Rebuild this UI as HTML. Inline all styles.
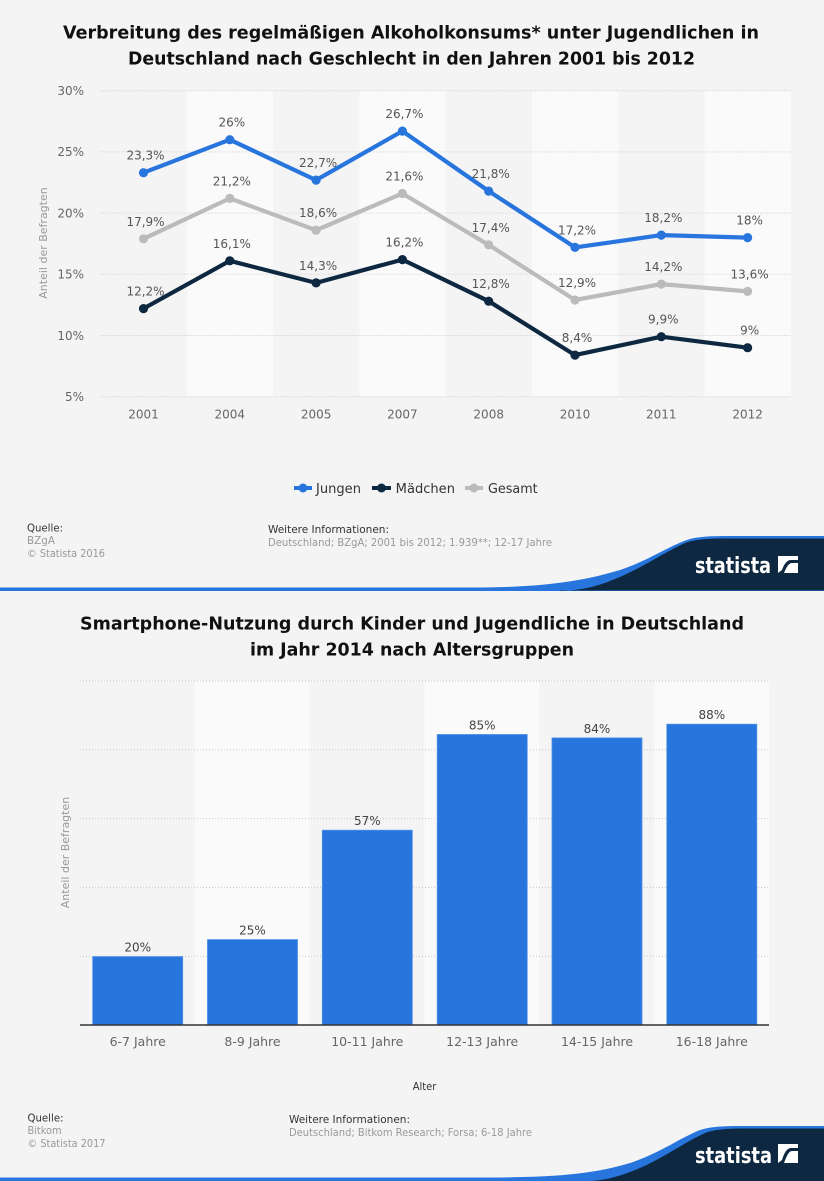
<!DOCTYPE html>
<html><head><meta charset="utf-8"><style>
html,body{margin:0;padding:0;background:#f4f4f4;}
svg{display:block;font-family:"DejaVu Sans","Liberation Sans",sans-serif;}
.ft{font-family:"DejaVu Sans Condensed","DejaVu Sans","Liberation Sans",sans-serif;font-size:11px;}
</style></head><body>
<svg width="824" height="1181" viewBox="0 0 824 1181" xmlns="http://www.w3.org/2000/svg">
<rect x="0" y="0" width="824" height="1181" fill="#f4f4f4"/>

<!-- ============ CHART 1 ============ -->
<text x="411" y="38.5" text-anchor="middle" font-size="17.5" font-weight="bold" fill="#111" textLength="696" lengthAdjust="spacingAndGlyphs">Verbreitung des regelmäßigen Alkoholkonsums* unter Jugendlichen in</text>
<text x="411.5" y="64.5" text-anchor="middle" font-size="17.5" font-weight="bold" fill="#111" textLength="567" lengthAdjust="spacingAndGlyphs">Deutschland nach Geschlecht in den Jahren 2001 bis 2012</text>

<!-- bands -->
<g fill="#fafafa">
<rect x="186.8" y="90.7" width="86.3" height="306"/>
<rect x="359.4" y="90.7" width="86.3" height="306"/>
<rect x="532" y="90.7" width="86.3" height="306"/>
<rect x="704.6" y="90.7" width="86.3" height="306"/>
</g>
<!-- gridlines -->
<g stroke="#c8c8c8" stroke-width="1" stroke-dasharray="1,2">
<line x1="100.5" y1="90.7" x2="791" y2="90.7"/>
<line x1="100.5" y1="151.9" x2="791" y2="151.9"/>
<line x1="100.5" y1="213.1" x2="791" y2="213.1"/>
<line x1="100.5" y1="274.3" x2="791" y2="274.3"/>
<line x1="100.5" y1="335.5" x2="791" y2="335.5"/>
<line x1="100.5" y1="396.7" x2="791" y2="396.7"/>
</g>
<g font-size="12" fill="#666" text-anchor="end">
<text x="84" y="95">30%</text>
<text x="84" y="156.2">25%</text>
<text x="84" y="217.4">20%</text>
<text x="84" y="278.6">15%</text>
<text x="84" y="339.8">10%</text>
<text x="84" y="401">5%</text>
</g>
<text transform="translate(47,243) rotate(-90)" text-anchor="middle" font-size="11" fill="#999">Anteil der Befragten</text>
<g font-size="12" fill="#666" text-anchor="middle">
<text x="143.5" y="418.5">2001</text>
<text x="229.8" y="418.5">2004</text>
<text x="316.1" y="418.5">2005</text>
<text x="402.4" y="418.5">2007</text>
<text x="488.7" y="418.5">2008</text>
<text x="575" y="418.5">2010</text>
<text x="661.3" y="418.5">2011</text>
<text x="747.6" y="418.5">2012</text>
</g>

<!-- series -->
<g fill="none" stroke-width="4.2" stroke-linejoin="round" stroke-linecap="round">
<polyline stroke="#bbbbbb" points="143.5,238.8 229.8,198.4 316.1,230.2 402.4,193.5 488.7,244.9 575,300 661.3,284.1 747.6,291.4"/>
<polyline stroke="#0e2841" points="143.5,308.6 229.8,260.8 316.1,282.9 402.4,259.6 488.7,301.2 575,355.1 661.3,336.7 747.6,347.7"/>
<polyline stroke="#2876dd" points="143.5,172.7 229.8,139.7 316.1,180.1 402.4,131.1 488.7,191.1 575,247.4 661.3,235.1 747.6,237.6"/>
</g>
<g fill="#bbbbbb">
<circle cx="143.5" cy="238.8" r="4.6"/><circle cx="229.8" cy="198.4" r="4.6"/><circle cx="316.1" cy="230.2" r="4.6"/><circle cx="402.4" cy="193.5" r="4.6"/><circle cx="488.7" cy="244.9" r="4.6"/><circle cx="575" cy="300" r="4.6"/><circle cx="661.3" cy="284.1" r="4.6"/><circle cx="747.6" cy="291.4" r="4.6"/>
</g>
<g fill="#0e2841">
<circle cx="143.5" cy="308.6" r="4.6"/><circle cx="229.8" cy="260.8" r="4.6"/><circle cx="316.1" cy="282.9" r="4.6"/><circle cx="402.4" cy="259.6" r="4.6"/><circle cx="488.7" cy="301.2" r="4.6"/><circle cx="575" cy="355.1" r="4.6"/><circle cx="661.3" cy="336.7" r="4.6"/><circle cx="747.6" cy="347.7" r="4.6"/>
</g>
<g fill="#2876dd">
<circle cx="143.5" cy="172.7" r="4.6"/><circle cx="229.8" cy="139.7" r="4.6"/><circle cx="316.1" cy="180.1" r="4.6"/><circle cx="402.4" cy="131.1" r="4.6"/><circle cx="488.7" cy="191.1" r="4.6"/><circle cx="575" cy="247.4" r="4.6"/><circle cx="661.3" cy="235.1" r="4.6"/><circle cx="747.6" cy="237.6" r="4.6"/>
</g>
<!-- labels -->
<g font-size="12" fill="#555" text-anchor="middle">
<text x="145.5" y="159.7">23,3%</text>
<text x="231.8" y="126.7">26%</text>
<text x="318.1" y="167.1">22,7%</text>
<text x="404.4" y="118.1">26,7%</text>
<text x="490.7" y="178.1">21,8%</text>
<text x="577" y="234.4">17,2%</text>
<text x="663.3" y="222.1">18,2%</text>
<text x="749.6" y="224.6">18%</text>

<text x="145.5" y="225.8">17,9%</text>
<text x="231.8" y="185.4">21,2%</text>
<text x="318.1" y="217.2">18,6%</text>
<text x="404.4" y="180.5">21,6%</text>
<text x="490.7" y="231.9">17,4%</text>
<text x="577" y="287">12,9%</text>
<text x="663.3" y="271.1">14,2%</text>
<text x="749.6" y="278.4">13,6%</text>

<text x="145.5" y="295.6">12,2%</text>
<text x="231.8" y="247.8">16,1%</text>
<text x="318.1" y="269.9">14,3%</text>
<text x="404.4" y="246.6">16,2%</text>
<text x="490.7" y="288.2">12,8%</text>
<text x="577" y="342.1">8,4%</text>
<text x="663.3" y="323.7">9,9%</text>
<text x="749.6" y="334.7">9%</text>
</g>

<!-- legend -->
<g stroke-width="4" stroke-linecap="butt">
<line x1="294" y1="488" x2="312" y2="488" stroke="#2876dd"/>
<line x1="372" y1="488" x2="391" y2="488" stroke="#0e2841"/>
<line x1="465" y1="488" x2="483" y2="488" stroke="#bbbbbb"/>
</g>
<circle cx="303" cy="488" r="4.5" fill="#2876dd"/>
<circle cx="381.5" cy="488" r="4.5" fill="#0e2841"/>
<circle cx="474" cy="488" r="4.5" fill="#bbbbbb"/>
<g font-size="13" fill="#333">
<text x="316" y="493" textLength="45" lengthAdjust="spacingAndGlyphs">Jungen</text>
<text x="395.7" y="493" textLength="59.3" lengthAdjust="spacingAndGlyphs">Mädchen</text>
<text x="488" y="493" textLength="49.7" lengthAdjust="spacingAndGlyphs">Gesamt</text>
</g>

<!-- footer 1 -->
<g class="ft">
<text x="27" y="531.5" fill="#333" textLength="36" lengthAdjust="spacingAndGlyphs">Quelle:</text>
<text x="27" y="544" fill="#999" textLength="28" lengthAdjust="spacingAndGlyphs">BZgA</text>
<text x="27" y="557" fill="#999" textLength="78" lengthAdjust="spacingAndGlyphs">© Statista 2016</text>
<text x="268" y="533" fill="#333" textLength="121" lengthAdjust="spacingAndGlyphs">Weitere Informationen:</text>
<text x="268" y="546" fill="#999" textLength="284" lengthAdjust="spacingAndGlyphs">Deutschland; BZgA; 2001 bis 2012; 1.939**; 12-17 Jahre</text>
</g>
<!-- logo 1 -->
<path d="M0,587.5 L470,587.5 C540,587.5 580,582 620,570 C650,560 670,545 690,539 C700,536.5 710,536 730,536 L824,536 L824,591 L0,591 Z" fill="#2876dd"/>
<path d="M560,591 C590,590 605,583 620,577 C645,566 665,552 685,543 C695,539.5 705,538.5 725,538.5 L824,538.5 L824,590.5 L560,590.5 Z" fill="#0e2841"/>
<text x="695" y="573" font-size="22" font-weight="bold" fill="#fff" textLength="76" lengthAdjust="spacingAndGlyphs">statista</text>
<rect x="778" y="556" width="20" height="17" fill="#fff"/>
<path d="M778,573 L784,573 C787,566 789,563 792,563 L798,563 L798,560 L791,560 C787,560 784,564 782,570 Z" fill="#0e2841"/>

<!-- ============ CHART 2 ============ -->
<text x="412" y="629.5" text-anchor="middle" font-size="17.5" font-weight="bold" fill="#111" textLength="664" lengthAdjust="spacingAndGlyphs">Smartphone-Nutzung durch Kinder und Jugendliche in Deutschland</text>
<text x="412" y="655.5" text-anchor="middle" font-size="17.5" font-weight="bold" fill="#111" textLength="324" lengthAdjust="spacingAndGlyphs">im Jahr 2014 nach Altersgruppen</text>

<g fill="#fafafa">
<rect x="194.8" y="681" width="114.8" height="344"/>
<rect x="424.5" y="681" width="114.8" height="344"/>
<rect x="654.2" y="681" width="114.8" height="344"/>
</g>
<g stroke="#c8c8c8" stroke-width="1" stroke-dasharray="1,2">
<line x1="80" y1="681" x2="769" y2="681"/>
<line x1="80" y1="749.8" x2="769" y2="749.8"/>
<line x1="80" y1="818.6" x2="769" y2="818.6"/>
<line x1="80" y1="887.4" x2="769" y2="887.4"/>
<line x1="80" y1="956.2" x2="769" y2="956.2"/>
</g>
<g fill="#2876dd" stroke="#4a8fe6" stroke-width="0.8">
<rect x="92.7" y="956.6" width="90" height="68.4"/>
<rect x="207.5" y="939.6" width="90" height="85.4"/>
<rect x="322.3" y="830.2" width="90" height="194.8"/>
<rect x="437.2" y="734.5" width="90" height="290.5"/>
<rect x="552" y="737.9" width="90" height="287.1"/>
<rect x="666.8" y="724.2" width="90" height="300.8"/>
</g>
<line x1="80" y1="1025" x2="769" y2="1025" stroke="#333" stroke-width="1.5"/>
<g font-size="12" fill="#444" text-anchor="middle">
<text x="137.7" y="951.6">20%</text>
<text x="252.5" y="934.6">25%</text>
<text x="367.3" y="825.2">57%</text>
<text x="482.2" y="729.5">85%</text>
<text x="597" y="732.9">84%</text>
<text x="711.8" y="719.2">88%</text>
</g>
<g font-size="12.5" fill="#666" text-anchor="middle">
<text x="137.7" y="1046">6-7 Jahre</text>
<text x="252.5" y="1046">8-9 Jahre</text>
<text x="367.3" y="1046">10-11 Jahre</text>
<text x="482.2" y="1046">12-13 Jahre</text>
<text x="597" y="1046">14-15 Jahre</text>
<text x="711.8" y="1046">16-18 Jahre</text>
</g>
<text transform="translate(69,852.5) rotate(-90)" text-anchor="middle" font-size="11" fill="#999">Anteil der Befragten</text>
<text x="424.5" y="1090" text-anchor="middle" font-size="11" fill="#333" class="ft">Alter</text>

<!-- footer 2 -->
<g class="ft">
<text x="27.5" y="1121.5" fill="#333" textLength="36" lengthAdjust="spacingAndGlyphs">Quelle:</text>
<text x="27.5" y="1134" fill="#999" textLength="34" lengthAdjust="spacingAndGlyphs">Bitkom</text>
<text x="27.5" y="1147" fill="#999" textLength="78" lengthAdjust="spacingAndGlyphs">© Statista 2017</text>
<text x="289" y="1123" fill="#333" textLength="121" lengthAdjust="spacingAndGlyphs">Weitere Informationen:</text>
<text x="289" y="1136" fill="#999" textLength="243" lengthAdjust="spacingAndGlyphs">Deutschland; Bitkom Research; Forsa; 6-18 Jahre</text>
</g>
<!-- logo 2 -->
<path d="M0,1177.5 L480,1177.5 C550,1177.5 590,1175 630,1163 C660,1153 680,1138 700,1130 C710,1127 720,1126 740,1126 L824,1126 L824,1181 L0,1181 Z" fill="#2876dd"/>
<path d="M590,1181 C610,1180 625,1174 640,1168 C665,1157 685,1142 705,1133 C715,1129.5 725,1128.5 745,1128.5 L824,1128.5 L824,1181 Z" fill="#0e2841"/>
<text x="695" y="1163" font-size="22" font-weight="bold" fill="#fff" textLength="77" lengthAdjust="spacingAndGlyphs">statista</text>
<rect x="778" y="1144" width="20" height="19" fill="#fff"/>
<path d="M778,1163 L784,1163 C787,1155 789,1151 792,1151 L798,1151 L798,1148 L791,1148 C787,1148 784,1153 782,1160 Z" fill="#0e2841"/>
</svg>
</body></html>
